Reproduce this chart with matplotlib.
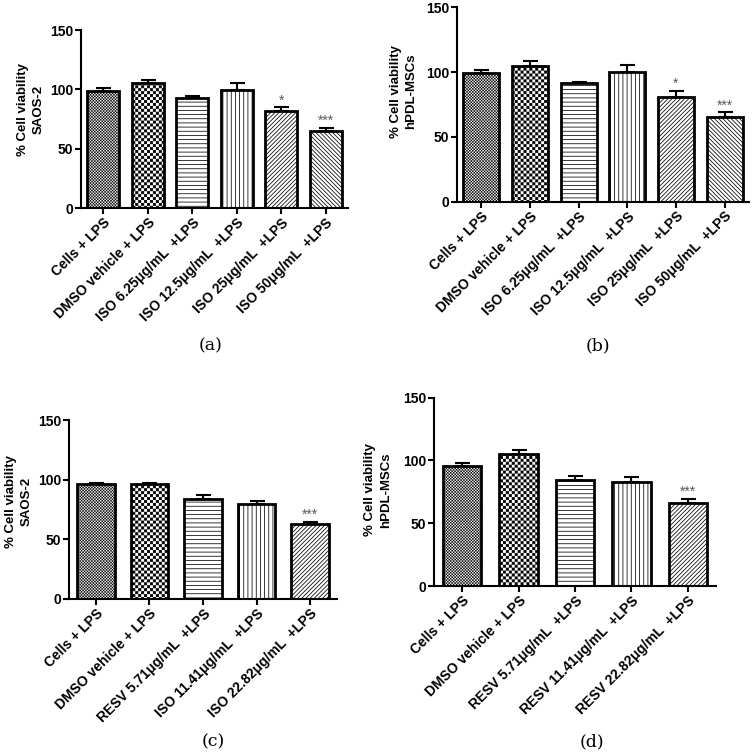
import warnings
warnings.filterwarnings('ignore')
import numpy as np
import matplotlib
matplotlib.use('Agg')
import matplotlib.pyplot as plt
import matplotlib.hatch as mhatch
from matplotlib.path import Path

# ---------------- data ----------------
labels_a = ["Cells + LPS", "DMSO vehicle + LPS", "ISO 6.25\u03bcg/mL  +LPS",
            "ISO 12.5\u03bcg/mL  +LPS", "ISO 25\u03bcg/mL  +LPS", "ISO 50\u03bcg/mL  +LPS"]
values_a = [99.0, 105.0, 93.0, 99.5, 81.5, 64.5]
errors_a = [2.0, 2.5, 1.5, 5.5, 3.5, 3.0]
stars_a = ["", "", "", "", "*", "***"]

labels_b = ["Cells + LPS", "DMSO vehicle + LPS", "ISO 6.25\u03bcg/mL  +LPS",
            "ISO 12.5\u03bcg/mL  +LPS", "ISO 25\u03bcg/mL  +LPS", "ISO 50\u03bcg/mL  +LPS"]
values_b = [99.5, 105.0, 91.5, 100.0, 80.5, 65.0]
errors_b = [2.0, 3.5, 1.0, 5.5, 5.0, 4.0]
stars_b = ["", "", "", "", "*", "***"]

labels_c = ["Cells + LPS", "DMSO vehicle + LPS", "RESV 5.71\u03bcg/mL  +LPS",
            "ISO 11.41\u03bcg/mL  +LPS", "ISO 22.82\u03bcg/mL  +LPS"]
values_c = [96.0, 96.0, 84.0, 80.0, 63.0]
errors_c = [1.5, 1.5, 3.0, 2.2, 1.5]
stars_c = ["", "", "", "", "***"]

labels_d = ["Cells + LPS", "DMSO vehicle + LPS", "RESV 5.71\u03bcg/mL  +LPS",
            "RESV 11.41\u03bcg/mL  +LPS", "RESV 22.82\u03bcg/mL  +LPS"]
values_d = [95.5, 105.0, 84.5, 83.0, 66.0]
errors_d = [2.8, 3.2, 3.0, 4.0, 3.7]
stars_d = ["", "", "", "", "***"]

yticks = [0, 50, 100, 150]

# ---------------- custom checkerboard hatch ----------------
HATCH_LW = 0.55
plt.rcParams['hatch.linewidth'] = HATCH_LW


class CheckerHatch(mhatch.HatchPatternBase):
    def __init__(self, hatch, density):
        self.n = 2 * hatch.count('c')
        self.num_vertices = (self.n * self.n // 2) * 5 if self.n else 0

    def set_vertices_and_codes(self, vertices, codes):
        n = self.n
        s = 1.0 / n
        inset = (HATCH_LW / 2.0) / 72.0
        sq = np.array([[inset, inset], [s - inset, inset], [s - inset, s - inset],
                       [inset, s - inset], [inset, inset]])
        parts = []
        for i in range(n):
            for j in range(n):
                if (i + j) % 2 == 0:
                    parts.append(sq + [i * s, j * s])
        vertices[:] = np.concatenate(parts)
        codes[:] = np.tile([Path.MOVETO, Path.LINETO, Path.LINETO, Path.LINETO,
                            Path.CLOSEPOLY], n * n // 2)


mhatch._hatch_types.append(CheckerHatch)

hatches = ['c' * 34, 'c' * 17, '----', '||||', '/' * 8, '\\' * 8]
hatches_cd = ['c' * 34, 'c' * 17, '----', '||||', '/' * 8]

plt.rcParams['font.family'] = ['Liberation Sans', 'DejaVu Sans']

W, H = 753, 754
fig = plt.figure(figsize=(W / 100, H / 100), dpi=100)


def panel(rect, labels, values, errors, stars, hatch_list, width,
          cell, ylab_xy, caption, cap_xy):
    l, r, t, b = rect
    ax = fig.add_axes([l / W, 1 - b / H, (r - l) / W, (b - t) / H])
    x = np.arange(len(values))
    ax.errorbar(x, values, yerr=[np.zeros(len(errors)), errors], fmt='none',
                ecolor='black', elinewidth=1.5, capsize=5.4, capthick=1.5,
                zorder=1)
    ax.bar(x, values, width=width, color='white', edgecolor='black',
           linewidth=2.0, hatch=hatch_list, zorder=2)
    for xi, v, e, s in zip(x, values, errors, stars):
        if s:
            ax.annotate(s, (xi, v + e), xytext=(0, 2), textcoords='offset points',
                        ha='center', va='baseline', fontsize=10, color='#5a5a5a')
    ax.set_xlim(-0.5, len(values) - 0.5)
    ax.set_ylim(0, 150)
    ax.set_yticks(yticks)
    ax.set_xticks(x)
    ax.set_xticklabels(labels, rotation=45, ha='right', va='top',
                       rotation_mode='anchor', fontsize=10, fontweight='bold')
    for lab in ax.get_yticklabels():
        lab.set_fontweight('bold')
        lab.set_fontsize(10)
    ax.tick_params(axis='both', direction='out', length=4, width=1.5, pad=1.5)
    for sp in ['top', 'right']:
        ax.spines[sp].set_visible(False)
    for sp in ['left', 'bottom']:
        ax.spines[sp].set_linewidth(1.5)
    fig.text(ylab_xy[0] / W, 1 - ylab_xy[1] / H, "% Cell viability\n" + cell,
             rotation=90, ha='center', va='center', multialignment='center',
             linespacing=1.4, fontsize=9.5, fontweight='bold')
    fig.text(cap_xy[0] / W, 1 - cap_xy[1] / H, caption, ha='center', va='center',
             fontsize=12.5, family='DejaVu Serif')
    return ax


panel((81, 348, 30, 208), labels_a, values_a, errors_a, stars_a, hatches, 0.72,
      "SAOS-2", (31, 109), "(a)", (211, 346))
panel((457, 749, 7.3, 201.7), labels_b, values_b, errors_b, stars_b, hatches, 0.74,
      "hPDL-MSCs", (403.5, 91), "(b)", (598, 346))
panel((69, 337, 420, 599), labels_c, values_c, errors_c, stars_c, hatches_cd, 0.70,
      "SAOS-2", (19, 501), "(c)", (213, 742))
panel((434, 716, 397.7, 586), labels_d, values_d, errors_d, stars_d, hatches_cd, 0.68,
      "hPDL-MSCs", (378, 490), "(d)", (592, 742))

fig.savefig('out.png', dpi=100)
